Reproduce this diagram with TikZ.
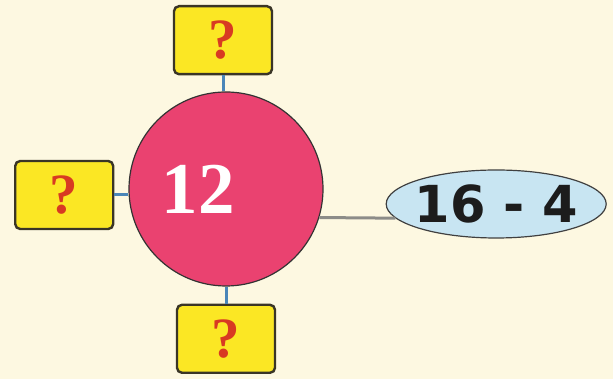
\documentclass[tikz,border=0pt]{standalone}
\usepackage{fontspec}
\usepackage{tikz}
\usetikzlibrary{positioning, shapes.geometric}
\newfontfamily\numserif{Liberation Serif}
\newfontfamily\numsans{DejaVu Sans}
\definecolor{cbg}{HTML}{FDF8E1}
\definecolor{cpink}{HTML}{EA4270}
\definecolor{cyell}{HTML}{FBE724}
\definecolor{cedge}{HTML}{3A3526}
\definecolor{cqm}{HTML}{D83A22}
\definecolor{csky}{HTML}{C8E5F2}
\definecolor{clink}{HTML}{4A86B8}
\definecolor{cgrey}{HTML}{8C8C88}
\definecolor{cink}{HTML}{1C1C1C}
\newcommand{\qmark}{{\numserif\bfseries\fontsize{57}{57}\selectfont\color{cqm}?}}

\begin{document}
\begin{tikzpicture}[x=1pt, y=1pt, node distance=15pt,
      qbox/.style={draw=cedge, line width=2.4pt, fill=cyell, rounded corners=5pt,
        minimum width=98pt, minimum height=68pt, inner sep=0pt},
      link/.style={clink, line width=3pt}]
    \fill[cbg] (0,0) rectangle (613,379);
    \node[circle, draw=black!80, line width=1.2pt, fill=cpink, minimum size=194pt, inner sep=0pt]
      (c) at (226,190) {\numserif\bfseries\fontsize{73}{73}\selectfont\color{white}\kern-56pt 12};
    \node[qbox, above=16pt of c, xshift=-3pt] (qt) {\qmark};
    \node[qbox, left=14pt of c, yshift=-6pt] (ql) {\qmark};
    \node[qbox, below=17pt of c] (qb) {\qmark};
    \node[ellipse, draw=black!75, line width=1.2pt, fill=csky, minimum width=220pt,
      minimum height=68pt, inner sep=0pt, right=62pt of c, yshift=-15pt,
      label={[text=cink, font=\numsans\bfseries\fontsize{51}{51}\selectfont]center:16 - 4}] (e) {};
    \draw[link] (qt.south) -- (qt.south |- c.north);
    \draw[link] (ql.east) -- (ql.east -| c.west);
    \draw[link] (qb.north) -- (qb.north |- c.south);
    \draw[cgrey, line width=3pt] (c.-17) -- (e.188);
  \end{tikzpicture}
\end{document}
